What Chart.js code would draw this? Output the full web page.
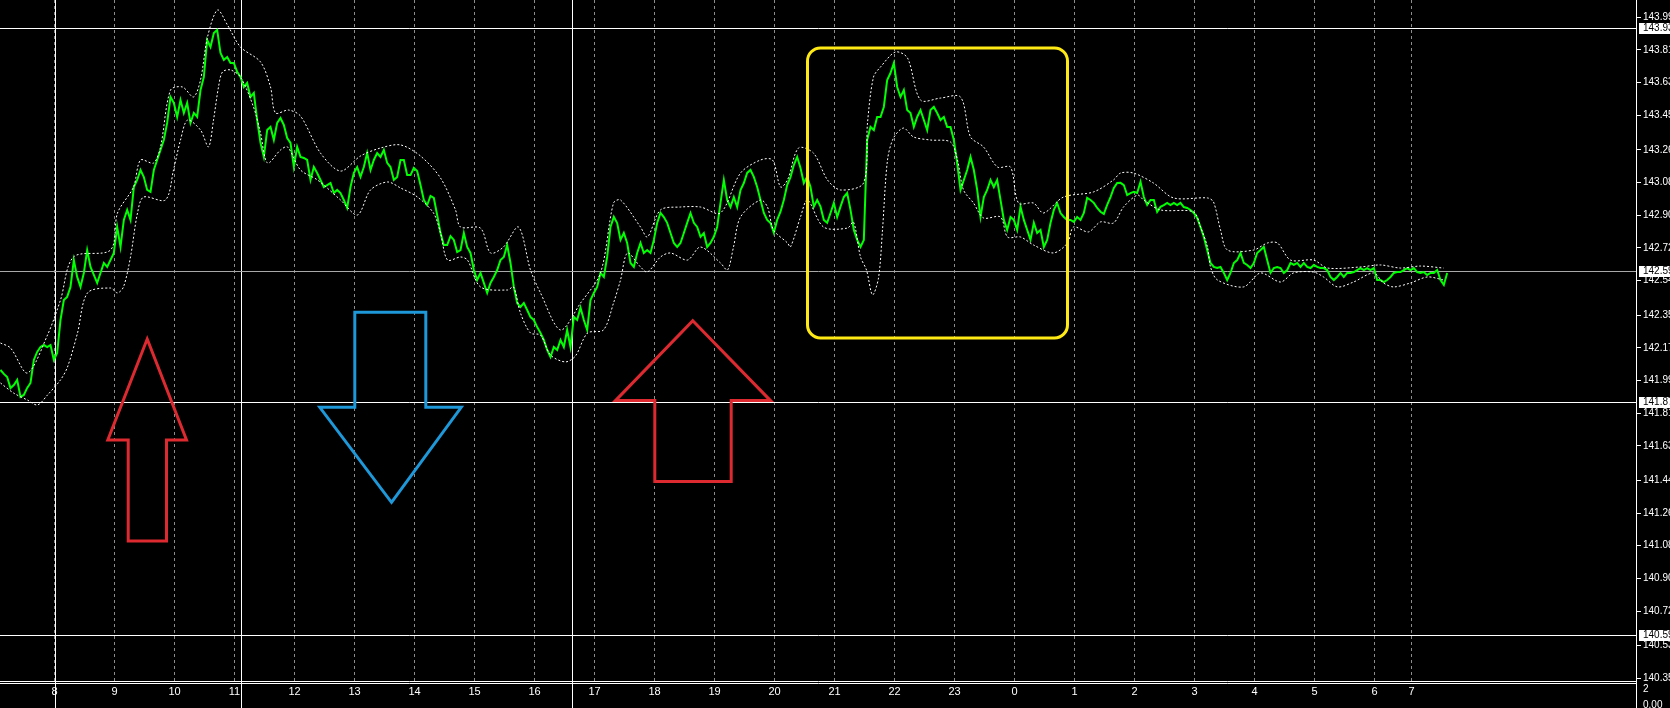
<!DOCTYPE html>
<html>
<head>
<meta charset="utf-8">
<script src="https://cdn.jsdelivr.net/npm/chart.js@4/dist/chart.umd.min.js"></script>
<style>
  html, body { margin: 0; padding: 0; background: #000; overflow: hidden; }
  canvas { display: block; }
</style>
</head>
<body>
<canvas id="myChart" width="1670" height="708"></canvas>
<script>
// x unit = bar position (1 unit = 1 minute of bars, 0 = the "8" hour mark)
const greenStart = -54;
const greenStep = 10 / 3;
const greenPrices = [
  142.048, 142.026, 142.009, 141.948, 141.965, 141.993, 141.899, 141.910, 141.949, 141.976, 142.103, 142.147, 142.174, 142.185, 142.174, 142.185, 142.103, 142.141, 142.323, 142.433,
  142.450, 142.505, 142.653, 142.560, 142.505, 142.582, 142.708, 142.615, 142.571, 142.527, 142.582, 142.637, 142.615, 142.653, 142.692, 142.835, 142.725, 142.874, 142.929, 142.874,
  143.055, 143.094, 143.149, 143.110, 143.039, 143.028, 143.149, 143.204, 143.259, 143.314, 143.408, 143.551, 143.518, 143.441, 143.534, 143.463, 143.518, 143.408, 143.463, 143.441,
  143.589, 143.661, 143.865, 143.826, 143.903, 143.920, 143.793, 143.755, 143.771, 143.738, 143.738, 143.689, 143.661, 143.606, 143.628, 143.551, 143.573, 143.424, 143.298, 143.221,
  143.369, 143.386, 143.314, 143.408, 143.435, 143.397, 143.325, 143.298, 143.166, 143.276, 143.221, 143.215, 143.204, 143.094, 143.166, 143.132, 143.094, 143.055, 143.066, 143.077,
  143.022, 143.039, 143.022, 142.984, 142.940, 143.055, 143.133, 143.165, 143.111, 143.165, 143.243, 143.149, 143.204, 143.242, 143.221, 143.259, 143.188, 143.165, 143.094, 143.110,
  143.204, 143.204, 143.121, 143.121, 143.160, 143.143, 143.066, 142.984, 142.956, 143.006, 142.995, 142.901, 142.803, 142.736, 142.736, 142.785, 142.764, 142.697, 142.708, 142.802,
  142.725, 142.692, 142.598, 142.543, 142.582, 142.527, 142.472, 142.527, 142.560, 142.598, 142.653, 142.670, 142.736, 142.637, 142.505, 142.416, 142.395, 142.416, 142.378, 142.339,
  142.323, 142.284, 142.252, 142.213, 142.158, 142.119, 142.174, 142.158, 142.213, 142.174, 142.268, 142.174, 142.340, 142.323, 142.391, 142.323, 142.268, 142.433, 142.472, 142.505,
  142.582, 142.560, 142.670, 142.835, 142.891, 142.857, 142.764, 142.802, 142.747, 142.637, 142.615, 142.692, 142.747, 142.692, 142.708, 142.692, 142.764, 142.857, 142.913, 142.890,
  142.858, 142.802, 142.747, 142.725, 142.747, 142.802, 142.858, 142.912, 142.858, 142.835, 142.781, 142.802, 142.725, 142.747, 142.781, 142.835, 142.968, 143.094, 142.984, 142.945,
  143.000, 142.945, 143.039, 143.077, 143.133, 143.149, 143.111, 143.055, 142.984, 142.912, 142.874, 142.857, 142.803, 142.874, 142.919, 142.984, 143.066, 143.110, 143.176, 143.221,
  143.160, 143.077, 143.111, 143.055, 142.947, 142.984, 142.947, 142.874, 142.858, 142.912, 142.968, 142.890, 142.947, 143.000, 143.022, 142.929, 142.819, 142.764, 142.725, 142.764,
  143.314, 143.386, 143.369, 143.441, 143.441, 143.496, 143.644, 143.683, 143.738, 143.606, 143.551, 143.589, 143.479, 143.463, 143.386, 143.441, 143.479, 143.424, 143.369, 143.479,
  143.496, 143.463, 143.424, 143.441, 143.386, 143.386, 143.314, 143.187, 143.039, 143.094, 143.149, 143.221, 143.149, 143.039, 142.890, 143.000, 143.039, 143.094, 143.055, 143.094,
  142.984, 142.874, 142.819, 142.890, 142.874, 142.819, 142.947, 142.874, 142.819, 142.764, 142.858, 142.802, 142.819, 142.725, 142.764, 142.857, 142.929, 142.967, 142.912, 142.890,
  142.874, 142.874, 142.863, 142.890, 142.874, 142.912, 142.995, 142.984, 142.968, 142.940, 142.919, 142.907, 142.957, 143.000, 143.050, 143.077, 143.078, 143.066, 143.011, 143.022,
  143.029, 143.022, 143.084, 143.000, 142.957, 142.984, 142.984, 142.918, 142.946, 142.956, 142.968, 142.956, 142.968, 142.956, 142.968, 142.945, 142.940, 142.929, 142.912, 142.885,
  142.835, 142.780, 142.708, 142.637, 142.615, 142.609, 142.615, 142.582, 142.543, 142.582, 142.637, 142.653, 142.692, 142.637, 142.626, 142.609, 142.637, 142.692, 142.708, 142.725,
  142.653, 142.582, 142.609, 142.615, 142.609, 142.582, 142.598, 142.637, 142.626, 142.637, 142.615, 142.637, 142.615, 142.609, 142.626, 142.615, 142.609, 142.609, 142.598, 142.560,
  142.543, 142.560, 142.582, 142.560, 142.582, 142.582, 142.587, 142.598, 142.609, 142.598, 142.609, 142.598, 142.609, 142.543, 142.543, 142.532, 142.543, 142.560, 142.582, 142.587,
  142.587, 142.598, 142.609, 142.598, 142.609, 142.587, 142.582, 142.587, 142.571, 142.582, 142.582, 142.598, 142.543, 142.516, 142.582
];

const upperTimes = [
  -54, -44, -27, -7, 6, 19, 56, 63, 79, 86, 99, 106, 116, 128, 139, 146, 153, 163, 173, 186,
  206, 216, 221, 234, 246, 266, 286, 306, 326, 346, 366, 386, 401, 406, 426, 436, 449, 464, 476, 486,
  506, 526, 546, 559, 566, 586, 593, 606, 626, 646, 666, 686, 706, 718, 726, 733, 744, 759, 773, 786,
  809, 813, 819, 826, 841, 853, 866, 886, 906, 916, 929, 943, 956, 964, 979, 989, 1009, 1039, 1059, 1066,
  1079, 1099, 1119, 1153, 1159, 1166, 1173, 1199, 1213, 1223, 1236, 1259, 1273, 1306, 1326, 1346, 1366, 1389
];
const upperPrices = [
  142.196, 142.169, 142.031, 142.240, 142.433, 142.670, 142.708, 142.912, 143.055, 143.204,
  143.187, 143.276, 143.589, 143.606, 143.551, 143.644, 143.881, 144.030, 143.947, 143.826,
  143.744, 143.606, 143.463, 143.479, 143.446, 143.242, 143.143, 143.226, 143.270, 143.287,
  143.226, 143.105, 142.929, 142.835, 142.829, 142.692, 142.725, 142.835, 142.598, 142.472,
  142.268, 142.416, 142.582, 142.967, 142.984, 142.835, 142.780, 142.929, 142.945, 142.945,
  142.912, 143.132, 143.204, 143.204, 143.055, 143.094, 143.270, 143.242, 143.094, 143.039,
  143.077, 143.408, 143.661, 143.716, 143.799, 143.766, 143.534, 143.545, 143.551, 143.331,
  143.276, 143.165, 143.165, 142.967, 142.967, 142.912, 143.000, 143.028, 143.094, 143.132,
  143.132, 143.077, 142.995, 142.995, 142.973, 142.819, 142.708, 142.708, 142.747, 142.747,
  142.653, 142.653, 142.609, 142.615, 142.626, 142.609, 142.620, 142.609
];

const lowerTimes = [
  -54, -41, -27, -17, -7, 6, 13, 23, 33, 56, 63, 69, 76, 83, 89, 111, 119, 126, 133, 146,
  154, 159, 164, 168, 176, 186, 199, 206, 213, 226, 233, 246, 263, 286, 303, 316, 333, 346, 363, 379,
  386, 393, 406, 413, 426, 453, 459, 466, 476, 486, 496, 511, 521, 533, 549, 559, 566, 573, 586, 593,
  606, 616, 633, 646, 666, 673, 679, 686, 706, 713, 719, 733, 736, 746, 753, 769, 793, 799, 806, 812,
  818, 824, 828, 833, 839, 849, 859, 876, 896, 903, 909, 919, 929, 946, 953, 966, 979, 999, 1013, 1019,
  1034, 1046, 1059, 1069, 1083, 1089, 1106, 1139, 1146, 1153, 1156, 1163, 1189, 1206, 1226, 1239, 1259, 1269, 1283, 1299,
  1319, 1329, 1339, 1356, 1373, 1389
];
const lowerPrices = [
  141.976, 141.921, 141.882, 141.855, 141.910, 141.993, 142.064, 142.251, 142.472, 142.499,
  142.472, 142.505, 142.670, 142.912, 143.000, 142.984, 143.149, 143.314, 143.424, 143.369,
  143.276, 143.424, 143.606, 143.689, 143.700, 143.661, 143.496, 143.353, 143.187, 143.259,
  143.276, 143.149, 143.094, 142.984, 142.901, 143.039, 143.083, 143.050, 143.000, 142.912,
  142.802, 142.653, 142.670, 142.653, 142.505, 142.488, 142.505, 142.361, 142.251, 142.240,
  142.130, 142.092, 142.125, 142.251, 142.268, 142.416, 142.543, 142.692, 142.615, 142.587,
  142.670, 142.692, 142.653, 142.725, 142.637, 142.598, 142.725, 142.890, 142.984, 142.945,
  142.819, 142.747, 142.725, 142.890, 142.984, 142.835, 142.829, 142.863, 142.670, 142.598,
  142.461, 142.554, 142.819, 143.204, 143.325, 143.380, 143.331, 143.314, 143.303, 143.204,
  143.039, 142.967, 142.885, 142.890, 142.780, 142.780, 142.736, 142.692, 142.747, 142.835,
  142.808, 142.863, 142.857, 142.945, 143.011, 142.984, 142.929, 142.918, 142.835, 142.725,
  142.615, 142.543, 142.505, 142.582, 142.532, 142.582, 142.587, 142.560, 142.505, 142.532,
  142.582, 142.527, 142.505, 142.527, 142.560, 142.543
];

const hourPositions = [0, 60, 120, 180, 240, 300, 360, 420, 480, 540, 600, 660, 720, 780, 840, 900,
  960, 1020, 1080, 1140, 1200, 1260, 1320, 1357];
const hourLabels = ['8', '9', '10', '11', '12', '13', '14', '15', '16', '17', '18', '19', '20', '21',
  '22', '23', '0', '1', '2', '3', '4', '5', '6', '7'];
const priceTicks = [143.99, 143.81, 143.63, 143.45, 143.26, 143.08, 142.90, 142.72, 142.54, 142.35, 142.17,
  141.99, 141.81, 141.63, 141.44, 141.26, 141.08, 140.90, 140.72, 140.53, 140.35];
const levelPrices = [143.93, 142.59, 141.87, 140.59];
const levelColors = ['#ffffff', '#a8a8a8', '#ffffff', '#ffffff'];
const vLineTimes = [0, 186, 517.5];

// drawn objects (time / price anchors)
const arrows = [
  { color: '#dc2a30', tip: [92.7, 142.218], wing: [53.3, 132, 141.662], shaft: [73.7, 112], end: 141.106 },
  { color: '#1e98d8', tip: [337, 141.319], wing: [265.3, 406.7, 141.842], shaft: [300.3, 371.3], end: 142.365 },
  { color: '#dc2a30', tip: [638.3, 142.319], wing: [561, 716, 141.879], shaft: [600.3, 676.7], end: 141.433 }
];
const box = { t1: 753, p1: 143.821, t2: 1013, p2: 142.224, color: '#ffe914' };

const axisFont = '10px "Liberation Sans"';

const pairs = (xs, ys) => xs.slice(0, Math.min(xs.length, ys.length)).map((x, i) => ({ x, y: ys[i] }));
const greenData = greenPrices.map((p, i) => ({ x: greenStart + i * greenStep, y: p }));

const terminal = {
  id: 'terminal',
  beforeDraw(chart) {
    const ctx = chart.ctx;
    ctx.save();
    ctx.fillStyle = '#000';
    ctx.fillRect(0, 0, chart.width, chart.height);
    ctx.restore();
  },
  beforeDatasetsDraw(chart) {
    const { ctx, chartArea, scales } = chart;
    ctx.save();
    ctx.lineWidth = 1;
    ctx.strokeStyle = '#ffffff';
    vLineTimes.forEach(t => {
      const x = Math.round(scales.x.getPixelForValue(t)) + 0.5;
      ctx.beginPath();
      ctx.moveTo(x, 0);
      ctx.lineTo(x, chart.height);
      ctx.stroke();
    });
    levelPrices.forEach((p, i) => {
      const y = Math.round(scales.y.getPixelForValue(p)) + 0.5;
      ctx.strokeStyle = levelColors[i];
      ctx.beginPath();
      ctx.moveTo(chartArea.left, y);
      ctx.lineTo(chartArea.right, y);
      ctx.stroke();
    });
    ctx.restore();
  },
  afterDatasetsDraw(chart) {
    const { ctx, scales } = chart;
    const X = t => scales.x.getPixelForValue(t);
    const Y = p => scales.y.getPixelForValue(p);
    ctx.save();
    ctx.lineWidth = 3;
    ctx.lineJoin = 'miter';
    arrows.forEach(a => {
      ctx.strokeStyle = a.color;
      ctx.beginPath();
      ctx.moveTo(X(a.tip[0]), Y(a.tip[1]));
      ctx.lineTo(X(a.wing[1]), Y(a.wing[2]));
      ctx.lineTo(X(a.shaft[1]), Y(a.wing[2]));
      ctx.lineTo(X(a.shaft[1]), Y(a.end));
      ctx.lineTo(X(a.shaft[0]), Y(a.end));
      ctx.lineTo(X(a.shaft[0]), Y(a.wing[2]));
      ctx.lineTo(X(a.wing[0]), Y(a.wing[2]));
      ctx.closePath();
      ctx.stroke();
    });
    // rounded rectangle
    const x1 = X(box.t1), x2 = X(box.t2), y1 = Y(box.p1), y2 = Y(box.p2), r = 13;
    ctx.strokeStyle = box.color;
    ctx.beginPath();
    ctx.moveTo(x1 + r, y1);
    ctx.arcTo(x2, y1, x2, y2, r);
    ctx.arcTo(x2, y2, x1, y2, r);
    ctx.arcTo(x1, y2, x1, y1, r);
    ctx.arcTo(x1, y1, x2, y1, r);
    ctx.closePath();
    ctx.stroke();
    ctx.restore();
  },
  afterDraw(chart) {
    const { ctx, chartArea, scales } = chart;
    ctx.save();
    ctx.strokeStyle = '#ffffff';
    ctx.lineWidth = 1;
    // separator double line and price-axis border
    [681.5, 683.5].forEach(y => {
      ctx.beginPath();
      ctx.moveTo(0, y);
      ctx.lineTo(chartArea.right, y);
      ctx.stroke();
    });
    ctx.beginPath();
    ctx.moveTo(chartArea.right - 0.5, 0);
    ctx.lineTo(chartArea.right - 0.5, chart.height);
    ctx.stroke();
    // price labels of the horizontal lines
    ctx.font = axisFont;
    ctx.textBaseline = 'middle';
    ctx.textAlign = 'left';
    levelPrices.forEach(p => {
      const y = Math.round(scales.y.getPixelForValue(p));
      ctx.fillStyle = '#ffffff';
      ctx.fillRect(chartArea.right + 2, y - 5, chart.width - chartArea.right - 2, 11);
      ctx.fillStyle = '#000000';
      ctx.fillText(p.toFixed(2), chartArea.right + 6, y + 0.5);
    });
    // indicator sub-window scale
    ctx.fillStyle = '#ffffff';
    ctx.fillText('2', chartArea.right + 6, 689);
    ctx.fillText('0.00', chartArea.right + 6, 705);
    ctx.restore();
  }
};

const data = {
  datasets: [
    {
      label: 'upper',
      data: pairs(upperTimes, upperPrices),
      borderColor: '#ffffff',
      borderWidth: 1,
      borderDash: [2, 2],
      pointRadius: 0,
      tension: 0.3
    },
    {
      label: 'lower',
      data: pairs(lowerTimes, lowerPrices),
      borderColor: '#ffffff',
      borderWidth: 1,
      borderDash: [2, 2],
      pointRadius: 0,
      tension: 0.3
    },
    {
      label: 'price',
      data: greenData,
      borderColor: '#00ff00',
      borderWidth: 2,
      pointRadius: 0,
      tension: 0
    }
  ]
};

const config = {
  type: 'line',
  data,
  options: {
    responsive: false,
    devicePixelRatio: 1,
    animation: false,
    events: [],
    layout: { padding: 0 },
    plugins: { legend: { display: false }, tooltip: { enabled: false } },
    scales: {
      x: {
        type: 'linear',
        position: 'bottom',
        min: -54.5,
        max: 1582.5,
        grid: { color: '#8c8c8c', lineWidth: 1, drawTicks: false },
        border: { display: false, dash: [3, 3] },
        ticks: {
          color: '#ffffff',
          font: { family: 'Liberation Sans', size: 11 },
          padding: 3,
          autoSkip: false,
          maxRotation: 0,
          callback: (v, i) => hourLabels[i]
        },
        afterBuildTicks: s => { s.ticks = hourPositions.map(v => ({ value: v })); },
        afterFit: s => { s.height = 26; s.paddingLeft = 0; s.paddingRight = 0; }
      },
      y: {
        type: 'linear',
        position: 'right',
        min: 140.3295,
        max: 144.085,
        grid: { drawOnChartArea: false, drawTicks: true, tickLength: 4, color: '#ffffff' },
        border: { display: false },
        ticks: {
          color: '#ffffff',
          font: { family: 'Liberation Sans', size: 10 },
          padding: 2,
          autoSkip: false,
          callback: v => v.toFixed(2)
        },
        afterBuildTicks: s => { s.ticks = priceTicks.map(v => ({ value: v })); },
        afterFit: s => { s.width = 33; s.paddingTop = 0; s.paddingBottom = 0; }
      }
    }
  },
  plugins: [terminal]
};

const myChart = new Chart(document.getElementById('myChart'), config);
</script>
</body>
</html>
